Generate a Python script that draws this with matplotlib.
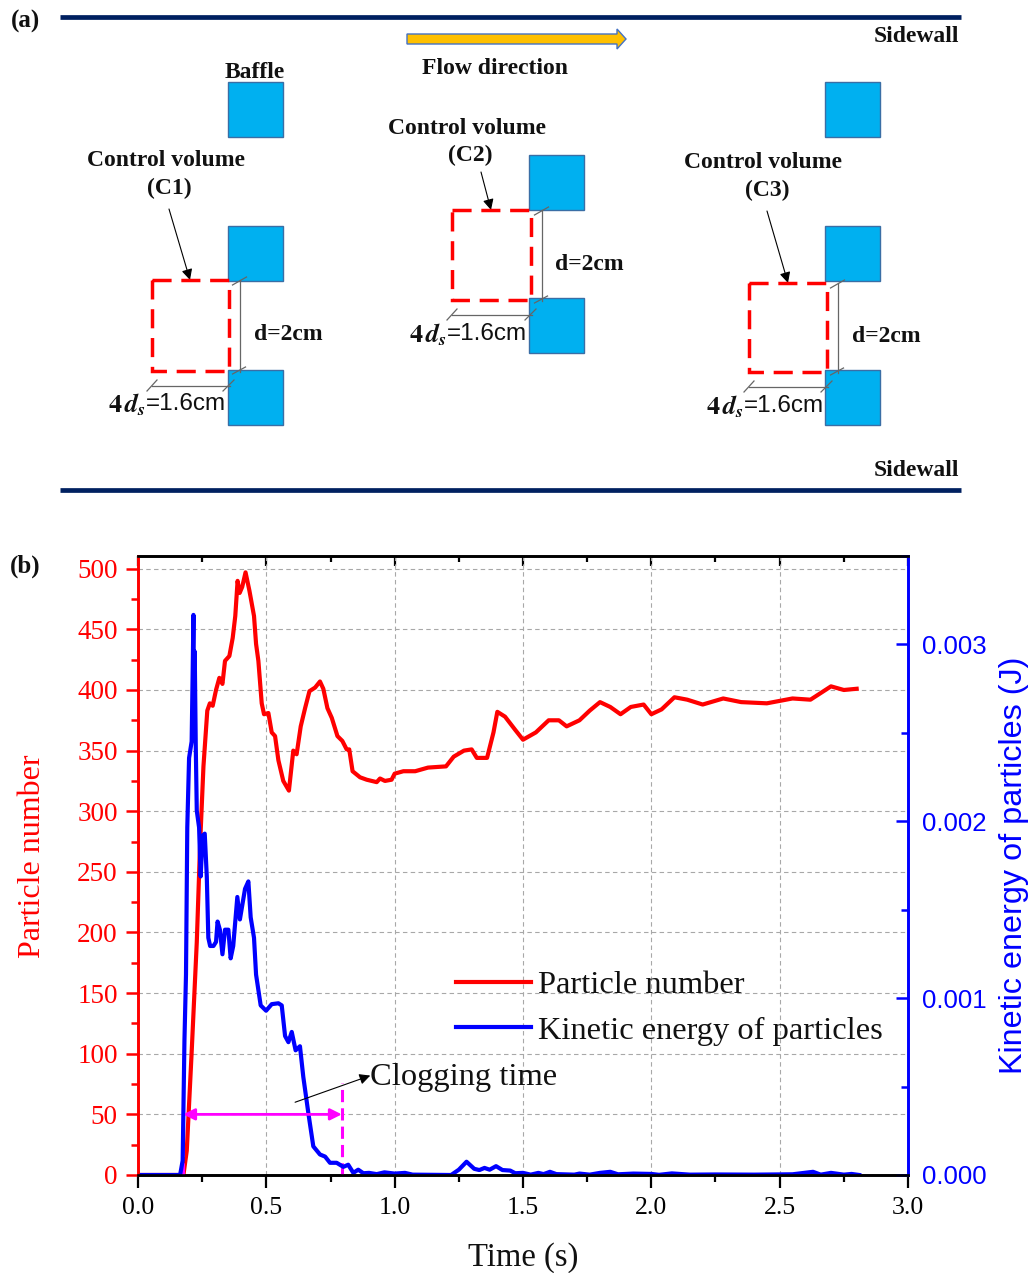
import numpy as np
import matplotlib
matplotlib.use('Agg')
import matplotlib.pyplot as plt
from matplotlib.patches import Rectangle, FancyArrow
from matplotlib.ticker import MultipleLocator

plt.rcParams['mathtext.fontset'] = 'stix'
SERIF = 'Liberation Serif'
SANS = 'Liberation Sans'

time_n = [0.0, 0.17, 0.177, 0.19, 0.209, 0.229, 0.242, 0.255, 0.27, 0.28, 0.291, 0.304, 0.317, 0.329, 0.339, 0.356,
          0.369, 0.379, 0.388, 0.396, 0.406, 0.419, 0.434, 0.452, 0.46, 0.469, 0.482, 0.491, 0.508, 0.521, 0.534,
          0.547, 0.566, 0.588, 0.605, 0.618, 0.634, 0.651, 0.668, 0.69, 0.709, 0.722, 0.738, 0.755, 0.777, 0.796,
          0.813, 0.823, 0.836, 0.865, 0.891, 0.93, 0.943, 0.962, 0.988, 1.0, 1.034, 1.08, 1.13, 1.2, 1.23, 1.27,
          1.3, 1.32, 1.36, 1.385, 1.4, 1.43, 1.47, 1.5, 1.55, 1.6, 1.64, 1.67, 1.72, 1.76, 1.8, 1.84, 1.88, 1.92,
          1.97, 2.0, 2.04, 2.09, 2.14, 2.2, 2.28, 2.35, 2.45, 2.55, 2.62, 2.7, 2.75, 2.8]
particle_number = [0, 0, 0, 20, 101, 192, 273, 337, 383, 389, 387, 400, 410, 405, 424, 428,
                   443, 461, 490, 480, 485, 497, 482, 461, 438, 424, 389, 380, 381, 365, 362,
                   342, 325, 317, 350, 347, 370, 385, 399, 402, 407, 401, 385, 377, 362, 358,
                   351, 351, 333, 328, 326, 324, 327, 325, 326, 331, 333, 333, 336, 337, 345, 350,
                   351, 344, 344, 365, 382, 378, 367, 359, 365, 375, 375, 370, 375, 383, 390, 386, 380, 386,
                   388, 380, 384, 394, 392, 388, 393, 390, 389, 393, 392, 403, 400, 401]

time_e = [0.0, 0.164, 0.174, 0.181, 0.187, 0.192, 0.199, 0.209, 0.213, 0.216, 0.218, 0.221, 0.225, 0.229, 0.238,
          0.244, 0.252, 0.26, 0.268, 0.274, 0.281, 0.294, 0.304, 0.31, 0.319, 0.329, 0.339, 0.352, 0.361, 0.371,
          0.387, 0.397, 0.417, 0.43, 0.439, 0.452, 0.46, 0.478, 0.499, 0.521, 0.547, 0.56, 0.573, 0.586, 0.599,
          0.614, 0.631, 0.644, 0.664, 0.683, 0.709, 0.729, 0.748, 0.774, 0.8, 0.819, 0.839, 0.858, 0.878,
          0.9, 0.93, 0.96, 1.0, 1.04, 1.07, 1.22, 1.25, 1.28, 1.31, 1.33, 1.35, 1.37, 1.395, 1.42, 1.45, 1.47,
          1.5, 1.53, 1.56, 1.58, 1.605, 1.63, 1.7, 1.72, 1.76, 1.8, 1.84, 1.87, 1.93, 2.0, 2.03, 2.08, 2.15,
          2.25, 2.4, 2.55, 2.63, 2.66, 2.7, 2.75, 2.78, 2.81]
kinetic_mJ = [0, 0, 0.081, 0.763, 1.133, 1.965, 2.358, 2.451, 2.84, 3.167, 2.52, 2.96, 2.43, 2.06, 1.965,
              1.688, 1.919, 1.93, 1.688, 1.341, 1.295, 1.295, 1.318, 1.433, 1.387, 1.248, 1.387, 1.387, 1.225, 1.295,
              1.572, 1.445, 1.618, 1.66, 1.457, 1.341, 1.133, 0.959, 0.929, 0.966, 0.971, 0.959, 0.786, 0.751, 0.809,
              0.705, 0.728, 0.555, 0.347, 0.162, 0.116, 0.104, 0.069, 0.069, 0.046, 0.058, 0.012, 0.03, 0.01,
              0.012, 0.005, 0.015, 0.008, 0.012, 0.002, 0.0, 0.03, 0.075, 0.035, 0.028, 0.04, 0.03, 0.05, 0.028, 0.025, 0.01,
              0.012, 0.002, 0.012, 0.005, 0.018, 0.005, 0.002, 0.008, 0.002, 0.012, 0.018, 0.004, 0.008, 0.006, 0.001, 0.009, 0.002,
              0.003, 0.002, 0.004, 0.018, 0.002, 0.012, 0.002, 0.006, 0.0]
kinetic_energy = np.array(kinetic_mJ) * 1e-3

x_ticks = [0.0, 0.5, 1.0, 1.5, 2.0, 2.5, 3.0]
n_ticks = list(range(0, 501, 50))
e_ticks = [0.000, 0.001, 0.002, 0.003]

W, H = 1031, 1273
fig = plt.figure(figsize=(W / 100, H / 100), dpi=100)

# ---- panel (a), in pixel coordinates of the figure
sk = fig.add_axes([0, 0, 1, 1])
sk.set_xlim(0, W)
sk.set_ylim(H, 0)
sk.axis('off')

def bt(x, y, s, size=17, ha='center', **kw):
    sk.text(x, y, s, family=SERIF, weight='bold', fontsize=size, ha=ha, va='center', color='#111111', **kw)

for y in (17, 490):
    sk.plot([60, 961], [y, y], color='#002060', lw=3.4, solid_capstyle='butt')

sk.add_patch(FancyArrow(407, 39, 219, 0, width=10, head_width=20, head_length=9,
                        length_includes_head=True, fc='#FFC000', ec='#4472C4', lw=1))

def baffle(x, y):
    sk.add_patch(Rectangle((x, y), 55, 55, fc='#00B0F0', ec='#3A6EA5', lw=1))

for x, ys in ((228, (82, 226, 370)), (529, (155, 298)), (825, (82, 226, 370))):
    for y in ys:
        baffle(x, y)

def grey(xs, ys):
    sk.plot(xs, ys, color='#666666', lw=0.9)

def control(x0, x1, y0, y1, ax_from, ax_to, label, title_xy, label_xy, d_xy, s_x, s_y):
    sk.add_patch(Rectangle((x0, y0), x1 - x0, y1 - y0, fill=False, ec='#FF0000', lw=2.5,
                           ls=(0, (5.5, 2.8)), zorder=4))
    vx = x1 + 10.5
    grey([vx, vx], [y0, y1 + 1])
    grey([vx - 7, vx + 7], [y0 + 5, y0 - 3])
    grey([vx - 7, vx + 6], [y1 + 3, y1 - 4])
    hy = y1 + 14.5
    grey([x0, x1 + 1], [hy, hy])
    grey([x0 - 5, x0 + 5], [hy + 5.5, hy - 5.5])
    grey([x1 - 6, x1 + 5], [hy + 5.5, hy - 5.5])
    sk.annotate('', xy=ax_to, xytext=ax_from,
                arrowprops=dict(arrowstyle='-|>', color='black', lw=0.8, mutation_scale=16,
                                shrinkA=0, shrinkB=0))
    bt(title_xy[0], title_xy[1] + 1, 'Control volume')
    bt(label_xy[0], label_xy[1] + 1, label)
    bt(d_xy, (y0 + y1) / 2 + 9, 'd=2cm', ha='left')
    sk.text(s_x, s_y, r'$\mathbf{4}\,\mathbfit{d}_{\mathbfit{s}}$', fontsize=19, ha='left', va='center', color='#111111')
    sk.text(s_x + 38, s_y - 1, '=1.6cm', family=SANS, fontsize=17.5, ha='left', va='center', color='#111111')

control(152, 229, 280, 371, (169, 209), (190, 280), '(C1)', (166, 160), (169, 187), 254, 108, 405)
control(452, 531, 210, 300, (481, 172), (491, 210), '(C2)', (467, 127), (470, 154), 555, 409, 335)
control(749, 827, 283, 372, (767, 211), (788, 283), '(C3)', (763, 162), (767, 189), 852, 706, 407)

bt(255, 73, 'Baffle')
bt(495, 69, 'Flow direction')
bt(916, 36, 'Sidewall')
bt(916, 471, 'Sidewall')
bt(25, 21, '(a)', size=18)
bt(25, 566, '(b)', size=18)

# ---- panel (b)
L, R, T, B = 138, 908, 556, 1175
ax = fig.add_axes([L / W, 1 - B / H, (R - L) / W, (B - T) / H])
ax.patch.set_alpha(0)
ax.set_xlim(0, 3)
ax.set_ylim(0, 510.5)
ax2 = ax.twinx()
ax2.set_ylim(0, 0.0035)

ax.grid(True, color='#a8a8a8', ls=(0, (4, 3)), lw=0.8)
ax.set_axisbelow(True)

line_n, = ax.plot(time_n, particle_number, color='#FF0000', lw=3, label='Particle number')
line_e, = ax2.plot(time_e, kinetic_energy, color='#0000FF', lw=3, label='Kinetic energy of particles')

for a in (ax, ax2):
    for s in a.spines.values():
        s.set_linewidth(1.9)
    a.spines['left'].set_color('#FF0000')
    a.spines['right'].set_color('#0000FF')
    a.spines['top'].set_color('black')
    a.spines['bottom'].set_color('black')

ax.set_xticks(x_ticks)
ax.set_xticklabels([f'{v:.1f}' for v in x_ticks], family=SERIF, fontsize=18.5)
ax.xaxis.set_minor_locator(MultipleLocator(0.25))
ax.tick_params(axis='x', which='major', direction='out', length=9, width=1.6, pad=7, top=False)
ax.tick_params(axis='x', which='minor', direction='out', length=5, width=1.6, top=False)
ax.set_yticks(n_ticks)
ax.set_yticklabels([str(v) for v in n_ticks], family=SERIF, fontsize=19.5, color='#FF0000')
ax.yaxis.set_minor_locator(MultipleLocator(25))
ax.tick_params(axis='y', which='major', direction='out', length=9, width=1.8, color='#FF0000', pad=5.5)
ax.tick_params(axis='y', which='minor', direction='out', length=5, width=1.8, color='#FF0000')

ax2.set_yticks(e_ticks)
ax2.set_yticklabels([f'{v:.3f}' for v in e_ticks], family=SANS, fontsize=18.5, color='#0000FF')
ax2.yaxis.set_minor_locator(MultipleLocator(0.0005))
ax2.tick_params(axis='y', which='major', direction='in', length=9, width=1.8, color='#0000FF', pad=10)
ax2.tick_params(axis='y', which='minor', direction='in', length=5, width=1.8, color='#0000FF')

# inward ticks along the top edge
sec = ax.secondary_xaxis('top')
sec.set_xticks(x_ticks)
sec.set_xticklabels([])
sec.xaxis.set_minor_locator(MultipleLocator(0.25))
sec.tick_params(axis='x', which='major', direction='in', length=7, width=1.6)
sec.tick_params(axis='x', which='minor', direction='in', length=4, width=1.6)
sec.spines['top'].set_visible(False)

fig.text(33 / W, 1 - 856 / H, 'Particle number', family=SERIF, fontsize=23, color='#FF0000',
         rotation=90, ha='center', va='center')
fig.text(1014 / W, 1 - 865 / H, 'Kinetic energy of particles (J)', family=SANS, fontsize=23.3, color='#0000FF',
         rotation=90, ha='center', va='center')
fig.text(523 / W, 1 - 1258 / H, 'Time (s)', family=SERIF, fontsize=23.5, color='#111111', ha='center', va='center')

ax2.legend(handles=[line_n, line_e], loc='center left', bbox_to_anchor=(456 / W, 1 - 1008 / H),
           bbox_transform=fig.transFigure, frameon=False, borderpad=0, borderaxespad=0,
           handlelength=2.3, handletextpad=0.22, labelspacing=0.48,
           prop=dict(family=SERIF, size=23.4), labelcolor='#111111')

# clogging-time marks
magenta = '#FF00FF'
ax2_top = ax2.get_ylim()[1]
clog_start, clog_end = 0.176, 0.794
ax.plot([clog_start, clog_start], [0, 71], color=magenta, lw=2.2, ls=(0, (4, 2)), zorder=5)
ax.plot([clog_end, clog_end], [0, 76], color=magenta, lw=2.2, ls=(0, (4, 2)), zorder=5)
ax2.annotate('', xy=(clog_start, 50 / 510.5 * ax2_top), xytext=(clog_end, 50 / 510.5 * ax2_top),
             arrowprops=dict(arrowstyle='<|-|>', color=magenta, lw=2, mutation_scale=17, shrinkA=0, shrinkB=0))
ax2.annotate('', xy=(0.905, 82 / 510.5 * ax2_top), xytext=(0.612, 60 / 510.5 * ax2_top),
             arrowprops=dict(arrowstyle='-|>', color='black', lw=0.8, mutation_scale=16, shrinkA=0, shrinkB=0))
ax2.text(0.905, 80 / 510.5 * ax2_top, 'Clogging time', family=SERIF, fontsize=23.4, color='#111111',
         ha='left', va='center')

fig.savefig('out.png', dpi=100)
